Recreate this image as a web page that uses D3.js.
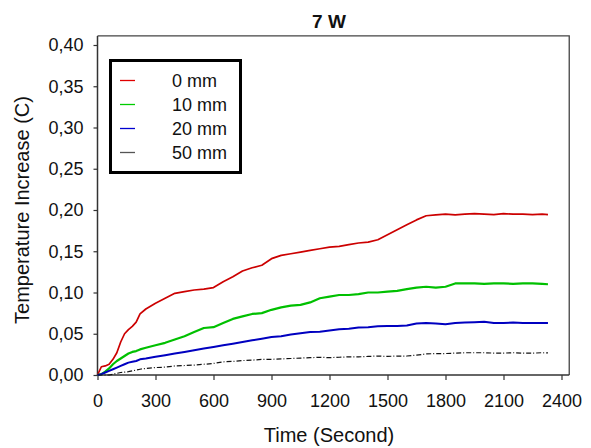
<!DOCTYPE html>
<html>
<head>
<meta charset="utf-8">
<script src="https://cdn.jsdelivr.net/npm/d3@7"></script>
<style>
  html, body { margin: 0; padding: 0; background: #fff; }
  svg { display: block; font-family: "Liberation Sans", Arial, sans-serif; }
</style>
</head>
<body>
<svg id="chart" width="591" height="448"></svg>
<script>
// Sample times (seconds) shared by every series
const times = [0, 20, 40, 60, 80, 100, 120, 140, 160, 180, 200, 220, 250, 300, 350, 400, 450, 500, 550, 600,
  650, 700, 750, 800, 850, 900, 950, 1000, 1050, 1100, 1150, 1200, 1250, 1300, 1350, 1400, 1450, 1500,
  1550, 1600, 1650, 1700, 1750, 1800, 1850, 1900, 1950, 2000, 2050, 2100, 2150, 2200, 2250, 2300, 2330];

// Temperature increase (C) at each sample time, by sensor depth
const depth0 = [0, 0.010, 0.011, 0.013, 0.019, 0.027, 0.040, 0.050, 0.055, 0.059, 0.064, 0.074, 0.080, 0.087,
  0.093, 0.099, 0.101, 0.103, 0.104, 0.106, 0.113, 0.119, 0.126, 0.130, 0.133, 0.141, 0.145, 0.147, 0.149,
  0.151, 0.153, 0.155, 0.156, 0.158, 0.160, 0.161, 0.164, 0.170, 0.176, 0.182, 0.188, 0.193, 0.194, 0.195,
  0.194, 0.195, 0.1955, 0.195, 0.1945, 0.1955, 0.195, 0.195, 0.1945, 0.195, 0.1945];
const depth10 = [0, 0.001, 0.004, 0.008, 0.013, 0.017, 0.020, 0.023, 0.026, 0.028, 0.029, 0.031, 0.033, 0.036,
  0.039, 0.043, 0.047, 0.052, 0.057, 0.058, 0.063, 0.068, 0.071, 0.074, 0.075, 0.079, 0.082, 0.084, 0.085,
  0.088, 0.093, 0.095, 0.097, 0.097, 0.098, 0.100, 0.100, 0.101, 0.102, 0.104, 0.106, 0.107, 0.106, 0.107,
  0.111, 0.111, 0.111, 0.1105, 0.111, 0.111, 0.1105, 0.111, 0.111, 0.1105, 0.110];
const depth20 = [0, 0.001, 0.003, 0.005, 0.007, 0.009, 0.011, 0.013, 0.015, 0.016, 0.017, 0.019, 0.020, 0.022,
  0.024, 0.026, 0.028, 0.030, 0.032, 0.034, 0.036, 0.038, 0.040, 0.042, 0.044, 0.046, 0.047, 0.049, 0.0505,
  0.052, 0.0525, 0.054, 0.0555, 0.056, 0.0575, 0.058, 0.059, 0.0595, 0.0595, 0.060, 0.0625, 0.063, 0.0625,
  0.0615, 0.063, 0.0635, 0.064, 0.0645, 0.063, 0.063, 0.0635, 0.063, 0.063, 0.063, 0.063];
const depth50 = [0, 0, 0, 0, 0.001, 0.002, 0.003, 0.0035, 0.004, 0.005, 0.006, 0.007, 0.008, 0.009, 0.0095,
  0.011, 0.0115, 0.012, 0.013, 0.014, 0.016, 0.0165, 0.0175, 0.018, 0.019, 0.019, 0.0195, 0.020, 0.0205,
  0.021, 0.0215, 0.021, 0.0215, 0.022, 0.022, 0.0225, 0.023, 0.0225, 0.023, 0.023, 0.024, 0.0255, 0.026,
  0.026, 0.0265, 0.027, 0.027, 0.027, 0.0265, 0.0265, 0.027, 0.0265, 0.0265, 0.027, 0.0267];

const seriesNames = ["0 mm", "10 mm", "20 mm", "50 mm"];
const xTicks = [0, 300, 600, 900, 1200, 1500, 1800, 2100, 2400];
const yTicks = [0, 0.05, 0.10, 0.15, 0.20, 0.25, 0.30, 0.35, 0.40];
const chartTitle = "7 W";
const xTitle = "Time (Second)";
const yTitle = "Temperature Increase (C)";

const styles = [
  { color: "#cc0000", legend: "#e00000", width: 1.7, dash: null },
  { color: "#00c000", legend: "#00cc00", width: 2.2, dash: null },
  { color: "#0000c0", legend: "#0000d0", width: 2.0, dash: null },
  { color: "#111111", legend: "#555555", width: 1.2, dash: "5,2,1,2" }
];

const svg = d3.select("#chart");

const x = d3.scaleLinear().domain([0, 2400]).range([97.5, 561.5]);
const y = d3.scaleLinear().domain([0, 0.40]).range([375, 45]);
const frameRight = x(2440), frameTop = y(0.411);

// Top and right frame edges
svg.append("path")
  .attr("d", `M${x(0)},${frameTop}H${frameRight}V${y(0)}`)
  .attr("fill", "none").attr("stroke", "#444").attr("stroke-width", 1.3);

const fmt = v => d3.format(".2f")(v).replace(".", ",");

const xAxis = svg.append("g").attr("transform", `translate(0,${y(0)})`)
  .call(d3.axisBottom(x).tickValues(xTicks).tickSize(5).tickPadding(14).tickFormat(d3.format("d")));
const yAxis = svg.append("g").attr("transform", `translate(${x(0)},0)`)
  .call(d3.axisLeft(y).tickValues(yTicks).tickSize(4).tickPadding(10).tickFormat(fmt));

[xAxis, yAxis].forEach(a => {
  a.select(".domain").attr("stroke", "#333").attr("stroke-width", 1.5);
  a.selectAll(".tick line").attr("stroke", "#333").attr("stroke-width", 1.2);
  a.selectAll(".tick text").attr("fill", "#111").style("font-size", "18px")
    .style("font-family", "'Liberation Sans', Arial, sans-serif");
});
yAxis.select(".domain").attr("d", `M0,${y(0)}V${frameTop}`);
xAxis.select(".domain").attr("d", `M${x(0)},0H${frameRight}`);

// Series lines
const allSeries = [depth0, depth10, depth20, depth50];
const line = d3.line().x((d, i) => x(times[i])).y(d => y(d));
allSeries.forEach((vals, k) => {
  svg.append("path")
    .datum(vals)
    .attr("d", line)
    .attr("fill", "none")
    .attr("stroke", styles[k].color)
    .attr("stroke-width", styles[k].width)
    .attr("stroke-linejoin", "round")
    .attr("stroke-dasharray", styles[k].dash);
});

// Titles
svg.append("text").attr("x", 329).attr("y", 28).attr("text-anchor", "middle")
  .style("font-size", "19px").style("font-weight", "bold").attr("fill", "#111").text(chartTitle);
svg.append("text").attr("x", 329).attr("y", 442).attr("text-anchor", "middle")
  .style("font-size", "20px").attr("fill", "#111").text(xTitle);
svg.append("text").attr("transform", "translate(29,210) rotate(-90)").attr("text-anchor", "middle")
  .style("font-size", "20px").attr("fill", "#111").text(yTitle);

// Legend
const lg = svg.append("g");
lg.append("rect").attr("x", 110.5).attr("y", 60.5).attr("width", 130).attr("height", 112)
  .attr("fill", "#fff").attr("stroke", "#000").attr("stroke-width", 3);
seriesNames.forEach((name, k) => {
  const cy = 80.5 + k * 24;
  lg.append("line").attr("x1", 120).attr("x2", 135).attr("y1", cy).attr("y2", cy)
    .attr("stroke", styles[k].legend).attr("stroke-width", 1.3);
  lg.append("text").attr("x", 172).attr("y", cy + 6.5).style("font-size", "18px")
    .attr("fill", "#111").text(name);
});
</script>
</body>
</html>
